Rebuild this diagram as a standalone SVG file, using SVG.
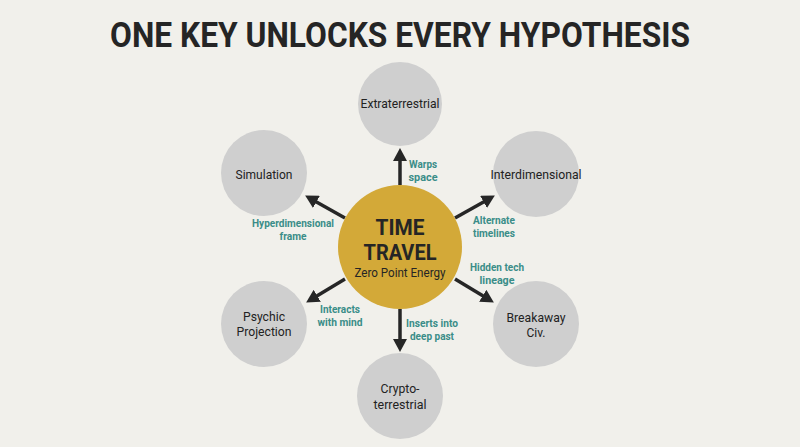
<svg xmlns="http://www.w3.org/2000/svg" width="800" height="447" viewBox="0 0 800 447">
<defs>
<style>
.bg{fill:#f1f0eb}
.node{fill:#cfcfcf}
.hub{fill:#d3a938}
.nt{font-family:Roboto,"Liberation Sans",sans-serif;font-size:13px;fill:#222;text-anchor:middle}
.lb{font-family:Roboto,"Liberation Sans",sans-serif;font-size:11px;font-weight:bold;fill:#3a8d88;text-anchor:middle}
.conn{stroke:#262626;stroke-width:3.5;fill:none;marker-end:url(#ah)}
</style>
<marker id="ah" markerUnits="userSpaceOnUse" markerWidth="13" markerHeight="14" refX="1" refY="7" orient="auto" viewBox="0 0 13 14">
<path d="M0,0 L13,7 L0,14 z" fill="#262626"/>
</marker>
</defs>
<rect class="bg" x="0" y="0" width="800" height="447"/>
<text x="400" y="47" font-family="Roboto,'Liberation Sans',sans-serif" font-size="35" font-weight="bold" fill="#252525" text-anchor="middle" textLength="580" lengthAdjust="spacingAndGlyphs">ONE KEY UNLOCKS EVERY HYPOTHESIS</text>
<g id="connectors">
<line class="conn" x1="400" y1="185" x2="400" y2="160"/>
<line class="conn" x1="400" y1="309" x2="400" y2="340"/>
<line class="conn" x1="455" y1="218" x2="484.4" y2="201.4"/>
<line class="conn" x1="345" y1="218" x2="315.6" y2="201.4"/>
<line class="conn" x1="455" y1="279" x2="483.6" y2="296.3"/>
<line class="conn" x1="345" y1="279" x2="316.4" y2="296.3"/>
<text class="lb" x="423" y="168" textLength="28" lengthAdjust="spacingAndGlyphs">Warps</text>
<text class="lb" x="423" y="180.5" textLength="29" lengthAdjust="spacingAndGlyphs">space</text>
<text class="lb" x="293" y="227" textLength="82" lengthAdjust="spacingAndGlyphs">Hyperdimensional</text>
<text class="lb" x="293" y="239.5" textLength="27" lengthAdjust="spacingAndGlyphs">frame</text>
<text class="lb" x="494" y="224" textLength="42" lengthAdjust="spacingAndGlyphs">Alternate</text>
<text class="lb" x="494" y="236.5" textLength="42" lengthAdjust="spacingAndGlyphs">timelines</text>
<text class="lb" x="497" y="271" textLength="54" lengthAdjust="spacingAndGlyphs">Hidden tech</text>
<text class="lb" x="497" y="283.5" textLength="35" lengthAdjust="spacingAndGlyphs">lineage</text>
<text class="lb" x="340" y="313" textLength="40" lengthAdjust="spacingAndGlyphs">Interacts</text>
<text class="lb" x="340" y="325.5" textLength="45" lengthAdjust="spacingAndGlyphs">with mind</text>
<text class="lb" x="432" y="327" textLength="52" lengthAdjust="spacingAndGlyphs">Inserts into</text>
<text class="lb" x="432" y="339.5" textLength="44" lengthAdjust="spacingAndGlyphs">deep past</text>
</g>
<g id="hub">
<circle class="hub" cx="400" cy="247" r="62"/>
<text x="400" y="235" font-family="Roboto,'Liberation Sans',sans-serif" font-size="22" font-weight="bold" fill="#252525" text-anchor="middle" textLength="49" lengthAdjust="spacingAndGlyphs">TIME</text>
<text x="400" y="260" font-family="Roboto,'Liberation Sans',sans-serif" font-size="22" font-weight="bold" fill="#252525" text-anchor="middle" textLength="73" lengthAdjust="spacingAndGlyphs">TRAVEL</text>
<text x="400" y="277" font-family="Roboto,'Liberation Sans',sans-serif" font-size="12.5" fill="#252525" text-anchor="middle" textLength="91" lengthAdjust="spacingAndGlyphs">Zero Point Energy</text>
</g>
<g id="extraterrestrial">
<circle class="node" cx="400" cy="104" r="42"/>
<text class="nt" x="400" y="108" textLength="79" lengthAdjust="spacingAndGlyphs">Extraterrestrial</text>
</g>
<g id="simulation">
<circle class="node" cx="264" cy="173" r="43"/>
<text class="nt" x="264" y="179" textLength="57" lengthAdjust="spacingAndGlyphs">Simulation</text>
</g>
<g id="interdimensional">
<circle class="node" cx="536" cy="174" r="43"/>
<text class="nt" x="536" y="179" textLength="91" lengthAdjust="spacingAndGlyphs">Interdimensional</text>
</g>
<g id="psychic">
<circle class="node" cx="264" cy="324" r="43"/>
<text class="nt" x="264" y="321" textLength="42" lengthAdjust="spacingAndGlyphs">Psychic</text>
<text class="nt" x="264" y="336" textLength="55" lengthAdjust="spacingAndGlyphs">Projection</text>
</g>
<g id="breakaway">
<circle class="node" cx="536" cy="324" r="43"/>
<text class="nt" x="536" y="322" textLength="59" lengthAdjust="spacingAndGlyphs">Breakaway</text>
<text class="nt" x="536" y="337" textLength="19" lengthAdjust="spacingAndGlyphs">Civ.</text>
</g>
<g id="cryptoterrestrial">
<circle class="node" cx="400" cy="396" r="43"/>
<text class="nt" x="400" y="393" textLength="39" lengthAdjust="spacingAndGlyphs">Crypto-</text>
<text class="nt" x="400" y="409" textLength="53" lengthAdjust="spacingAndGlyphs">terrestrial</text>
</g>
</svg>
